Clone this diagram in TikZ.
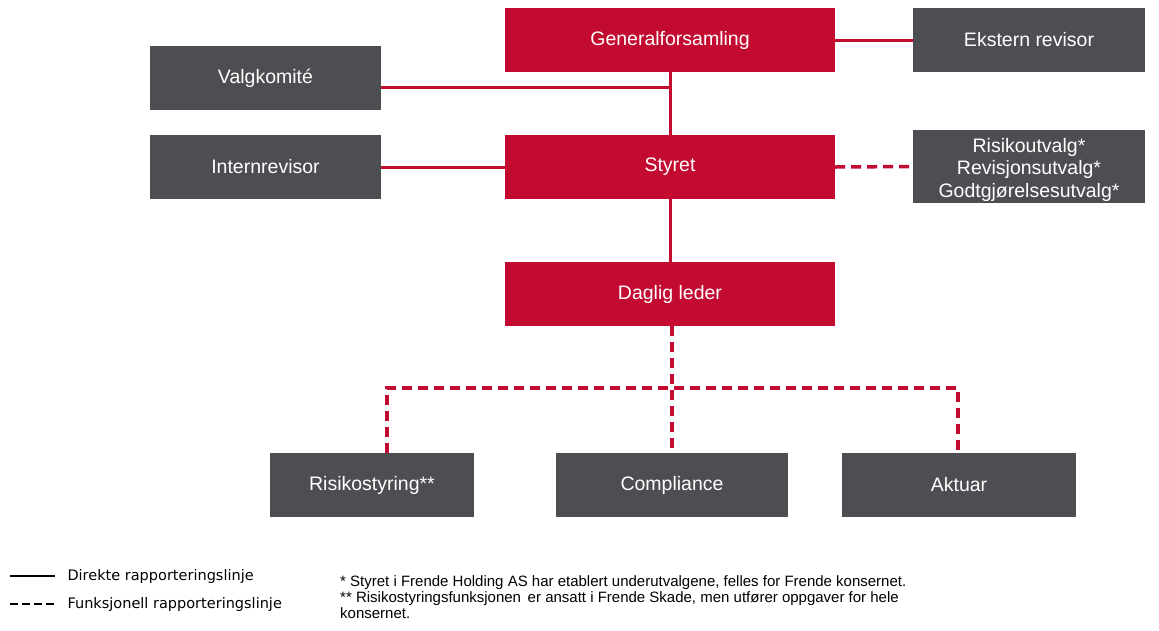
\documentclass[tikz,border=0pt]{standalone}
\usepackage{fontspec}
\setmainfont{Liberation Sans}
\newfontfamily\legendfont{DejaVu Sans}
\usepackage{xcolor}
\usetikzlibrary{positioning, arrows.meta}
\definecolor{frendered}{HTML}{C30A31}
\definecolor{frendegrey}{HTML}{4D4E52}

\tikzset{
  redbox/.style={fill=frendered, text=white, inner sep=0pt, minimum height=64pt, font=\fontsize{19.5}{22}\selectfont},
  greybox/.style={fill=frendegrey, text=white, inner sep=0pt, minimum height=64pt, font=\fontsize{19.5}{22}\selectfont},
  solidline/.style={draw=frendered, line width=3pt},
  dashline/.style={draw=frendered, line width=3.5pt, dash pattern=on 10pt off 6pt},
  legendtext/.style={anchor=west, font=\legendfont\fontsize{14.5}{16}\selectfont}
}

\begin{document}
\begin{tikzpicture}[x=1pt, y=-1pt]
  \useasboundingbox (0,0) rectangle (1159,630);

  % top level
  \node[redbox, minimum width=330pt] (genfors) at (670,40) {Generalforsamling};
  \node[greybox, minimum width=232pt] (ekstern) at (1029,40) {Ekstern revisor};
  \node[greybox, minimum width=231pt] (valgkom) at (265.5,78) {Valgkomité};

  % board level
  \node[redbox, minimum width=330pt] (styret) at (670,167) {Styret};
  \node[greybox, minimum width=231pt] (internrev) at (265.5,167) {Internrevisor};
  \node[greybox, minimum width=232pt, minimum height=73pt,
        font=\fontsize{19.5}{22.5}\selectfont] (utvalg) at (1029,166.5)
        {\raisebox{-3pt}[\height][\depth]{\parbox{232pt}{\centering Risikoutvalg*\\Revisjonsutvalg*\\Godtgjørelsesutvalg*}}};

  \node[redbox, minimum width=330pt] (daglig) at (670,294) {Daglig leder};

  % control functions
  \node[greybox, minimum width=204pt] (risikostyr) at (372,485) {Risikostyring**};
  \node[greybox, minimum width=232pt] (compliance) at (672,485) {Compliance};
  \node[greybox, minimum width=234pt] (aktuar) at (959,485) {Aktuar};

  \coordinate (valgjoin) at (670,87);
  \coordinate (splitleft) at (387,388);
  \coordinate (splitright) at (958,388);

  % reporting lines
  \draw[solidline] (genfors.east) -- (ekstern.west);
  \draw[solidline] (genfors.south) -- (styret.north);
  \draw[solidline] (valgkom.east |- valgjoin) -- (valgjoin);
  \draw[solidline] (internrev.east) -- (styret.west);
  \draw[solidline] (styret.south) -- (daglig.north);
  \draw[dashline] (styret.east) -- (utvalg.west);
  \draw[dashline] ([xshift=2pt]daglig.south) -- (compliance.north);
  \draw[dashline] (risikostyr.north -| splitleft) -- (splitleft) -- (splitright) -- (aktuar.north -| splitright);

  % legend
  \coordinate (solidstart) at (10,576);
  \coordinate (dashstart) at (10,604);
  \node[legendtext] (direkte) at (64,576) {Direkte rapporteringslinje};
  \node[legendtext] (funksj) at (64,604) {Funksjonell rapporteringslinje};
  \draw[line width=2.2pt] (solidstart) -- (solidstart -| 55,0);
  \draw[line width=2.2pt, dash pattern=on 8pt off 4pt] (dashstart) -- (dashstart -| 56,0);

  \node[anchor=north west, align=left, inner sep=0pt, font=\fontsize{15}{16}\selectfont] (footnotes) at (340,575)
    {* Styret i Frende Holding AS har etablert underutvalgene, felles for Frende konsernet.\\
     ** Risikostyringsfunksjonen\, er ansatt i Frende Skade, men utfører oppgaver for hele\\
     konsernet.};
\end{tikzpicture}
\end{document}
